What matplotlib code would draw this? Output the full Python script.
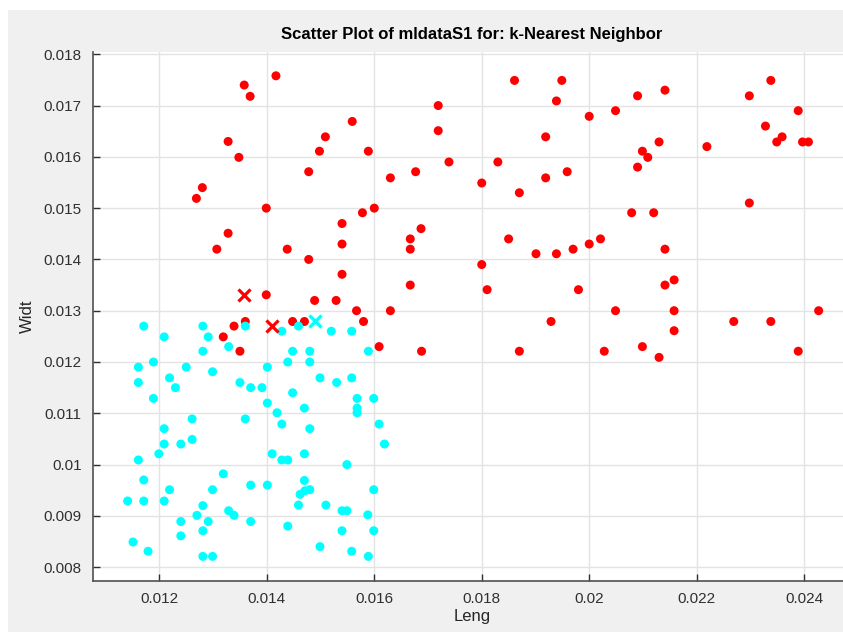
import matplotlib
matplotlib.use("Agg")
import matplotlib.pyplot as plt
from matplotlib.patches import Rectangle

# class 1 (red) training points: Leng, Widt
red_x = [0.01417, 0.01358, 0.01369, 0.01719, 0.01559, 0.01328, 0.01509, 0.01498,
         0.01589, 0.01719, 0.01348, 0.01478, 0.01739, 0.01630, 0.01677, 0.01280,
         0.01269, 0.01399, 0.01600, 0.01578, 0.01540, 0.01687, 0.01328, 0.01667,
         0.01667, 0.01307, 0.01438, 0.01540, 0.01478, 0.01540, 0.01667, 0.01399,
         0.01489, 0.01529, 0.01567, 0.01630, 0.01360, 0.01339, 0.01319, 0.01350,
         0.01448, 0.01470, 0.01580, 0.01609, 0.01688,
         0.01861, 0.01949, 0.01939, 0.02000, 0.02049, 0.02090, 0.02141, 0.01919,
         0.02130, 0.02099, 0.02109, 0.02090, 0.02219, 0.02298, 0.02338, 0.02389,
         0.02328, 0.02349, 0.02359, 0.02397, 0.02408, 0.01830, 0.01800, 0.01870,
         0.01919, 0.01959, 0.02298, 0.02079, 0.02120, 0.01850, 0.01901, 0.01939,
         0.01970, 0.02000, 0.02021, 0.02141, 0.01800, 0.01810, 0.01980, 0.02141,
         0.02158, 0.02049, 0.02158, 0.01929, 0.02269, 0.02338, 0.02427, 0.02158,
         0.01870, 0.02028, 0.02099, 0.02130, 0.02389]
red_y = [0.01758, 0.01740, 0.01718, 0.01700, 0.01669, 0.01630, 0.01639, 0.01611,
         0.01611, 0.01651, 0.01599, 0.01571, 0.01590, 0.01559, 0.01571, 0.01540,
         0.01519, 0.01500, 0.01500, 0.01491, 0.01470, 0.01460, 0.01451, 0.01440,
         0.01420, 0.01420, 0.01420, 0.01430, 0.01400, 0.01371, 0.01350, 0.01331,
         0.01320, 0.01320, 0.01300, 0.01300, 0.01279, 0.01270, 0.01249, 0.01221,
         0.01279, 0.01279, 0.01279, 0.01230, 0.01221,
         0.01749, 0.01749, 0.01709, 0.01679, 0.01690, 0.01719, 0.01730, 0.01639,
         0.01629, 0.01611, 0.01599, 0.01580, 0.01620, 0.01719, 0.01749, 0.01690,
         0.01660, 0.01629, 0.01639, 0.01629, 0.01629, 0.01590, 0.01549, 0.01530,
         0.01559, 0.01571, 0.01510, 0.01491, 0.01491, 0.01440, 0.01411, 0.01411,
         0.01420, 0.01430, 0.01440, 0.01420, 0.01390, 0.01341, 0.01341, 0.01350,
         0.01360, 0.01300, 0.01300, 0.01279, 0.01279, 0.01279, 0.01300, 0.01261,
         0.01221, 0.01221, 0.01230, 0.01209, 0.01221]

# class 2 (cyan) training points
cyan_x = [0.01171, 0.01281, 0.01360, 0.01209, 0.01291, 0.01428, 0.01459, 0.01520,
          0.01558, 0.01329, 0.01281, 0.01448, 0.01480, 0.01589, 0.01189, 0.01161,
          0.01250, 0.01401, 0.01439, 0.01480, 0.01299, 0.01219, 0.01161, 0.01230,
          0.01350, 0.01370, 0.01391, 0.01499, 0.01530, 0.01558, 0.01448, 0.01189,
          0.01401, 0.01470, 0.01568, 0.01599, 0.01568, 0.01568, 0.01419, 0.01428,
          0.01261, 0.01360, 0.01480, 0.01609, 0.01209, 0.01209, 0.01240, 0.01261,
          0.01619, 0.01199, 0.01161, 0.01410, 0.01428, 0.01439, 0.01470, 0.01549,
          0.01171, 0.01319, 0.01219, 0.01299, 0.01370, 0.01401, 0.01470, 0.01462,
          0.01471, 0.01480, 0.01599, 0.01141, 0.01171, 0.01209, 0.01281, 0.01459,
          0.01510, 0.01329, 0.01339, 0.01540, 0.01549, 0.01270, 0.01588, 0.01240,
          0.01291, 0.01370, 0.01439, 0.01281, 0.01540, 0.01599, 0.01240, 0.01151,
          0.01179, 0.01281, 0.01299, 0.01499, 0.01558, 0.01589]
cyan_y = [0.01270, 0.01270, 0.01270, 0.01249, 0.01249, 0.01260, 0.01270, 0.01260,
          0.01260, 0.01230, 0.01221, 0.01221, 0.01221, 0.01221, 0.01200, 0.01190,
          0.01190, 0.01190, 0.01200, 0.01200, 0.01181, 0.01169, 0.01160, 0.01150,
          0.01160, 0.01150, 0.01150, 0.01169, 0.01160, 0.01169, 0.01140, 0.01129,
          0.01120, 0.01110, 0.01129, 0.01129, 0.01110, 0.01101, 0.01101, 0.01079,
          0.01089, 0.01089, 0.01070, 0.01079, 0.01070, 0.01040, 0.01040, 0.01049,
          0.01040, 0.01021, 0.01009, 0.01021, 0.01009, 0.01009, 0.01021, 0.01000,
          0.00970, 0.00982, 0.00951, 0.00951, 0.00960, 0.00960, 0.00969, 0.00942,
          0.00949, 0.00951, 0.00951, 0.00929, 0.00929, 0.00929, 0.00920, 0.00921,
          0.00921, 0.00910, 0.00901, 0.00910, 0.00910, 0.00901, 0.00902, 0.00889,
          0.00889, 0.00889, 0.00880, 0.00871, 0.00871, 0.00871, 0.00861, 0.00849,
          0.00831, 0.00821, 0.00821, 0.00840, 0.00831, 0.00821]

# test points (x markers)
red_test_x = [0.01358, 0.01410]
red_test_y = [0.01331, 0.01270]
cyan_test_x = [0.01490]
cyan_test_y = [0.01279]

x_ticks = [0.012, 0.014, 0.016, 0.018, 0.02, 0.022, 0.024]
x_labels = ["0.012", "0.014", "0.016", "0.018", "0.02", "0.022", "0.024"]
y_ticks = [0.008, 0.009, 0.01, 0.011, 0.012, 0.013, 0.014, 0.015, 0.016, 0.017, 0.018]
y_labels = ["0.008", "0.009", "0.01", "0.011", "0.012", "0.013", "0.014",
            "0.015", "0.016", "0.017", "0.018"]

plt.rcParams["font.family"] = ["Liberation Sans", "DejaVu Sans"]

fig = plt.figure(figsize=(8.43, 6.32), dpi=100, facecolor="white")
# grey window area (screenshot has thin white strip at top and left)
fig.patches.append(Rectangle((8 / 843, 0), 1, 1 - 10 / 632, transform=fig.transFigure,
                             facecolor="#f0f0f0", edgecolor="none", zorder=-10))

ax = fig.add_axes([92.7 / 843, 1 - 581 / 632, 1 - 92.7 / 843 + 0.01, (581 - 51.7) / 632])
ax.set_facecolor("white")

ax.scatter(red_x, red_y, s=42, color="#ff0000", edgecolors="none", zorder=3)
ax.scatter(cyan_x, cyan_y, s=42, color="#00ffff", edgecolors="none", zorder=3)
ax.scatter(red_test_x, red_test_y, s=75, marker="x", color="#ff0000", linewidths=2.3, zorder=4)
ax.scatter(cyan_test_x, cyan_test_y, s=75, marker="x", color="#00ffff", linewidths=2.3, zorder=4)

ax.set_xlim(0.01076, 0.02488)
ax.set_ylim(0.00773, 0.01805)
ax.set_xticks(x_ticks)
ax.set_xticklabels(x_labels)
ax.set_yticks(y_ticks)
ax.set_yticklabels(y_labels)

ax.grid(True, color="#e3e3e3", linewidth=1.0, zorder=0)
ax.set_axisbelow(True)
for side in ["top", "right"]:
    ax.spines[side].set_visible(False)
for side in ["left", "bottom"]:
    ax.spines[side].set_color("#505050")
    ax.spines[side].set_linewidth(1.2)
ax.tick_params(direction="in", length=5, width=1, colors="#303030", labelsize=11, pad=8)

ax.set_title("Scatter Plot of mldataS1 for: k-Nearest Neighbor",
             fontsize=12, fontweight="bold", color="black", pad=9)
ax.set_xlabel("Leng", fontsize=12, color="#262626", labelpad=2)
ax.set_ylabel("Widt", fontsize=12, color="#262626", labelpad=6)

fig.savefig("out.png", dpi=100, facecolor=fig.get_facecolor())
